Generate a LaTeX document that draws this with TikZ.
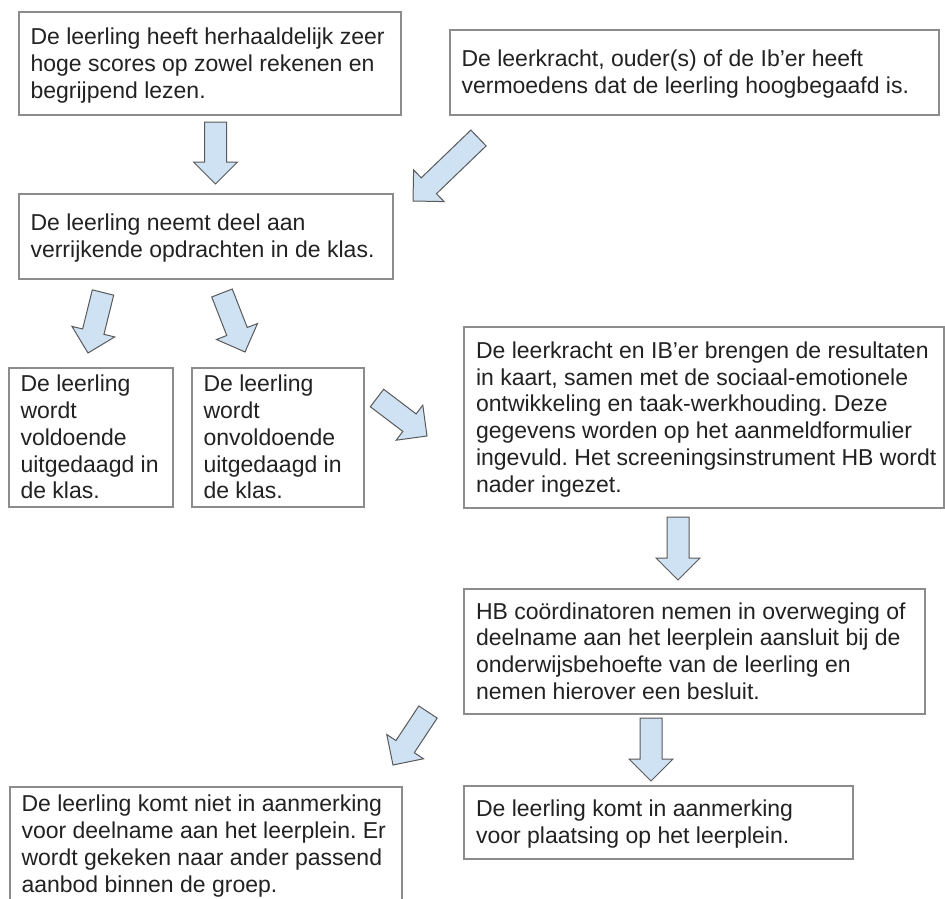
\documentclass[tikz,border=0pt]{standalone}
\usepackage{fontspec}
\setmainfont{Liberation Sans}
\usetikzlibrary{calc}
\frenchspacing
\definecolor{arrowfill}{HTML}{CFE2F3}
\definecolor{arrowline}{HTML}{595959}
\definecolor{boxline}{HTML}{8C8C8C}
\definecolor{txtcol}{HTML}{222222}
\newcommand\blkarrow[2]{%
  \coordinate (nk) at ($(#2)!22pt!(#1)$);
  \draw[blockarr] ($(#1)!11pt!90:(#2)$) -- ($(nk)!11pt!90:(#2)$) -- ($(nk)!22pt!90:(#2)$)
    -- (#2) -- ($(nk)!22pt!-90:(#2)$) -- ($(nk)!11pt!-90:(#2)$) -- ($(#1)!11pt!-90:(#2)$) -- cycle;
}
\tikzset{
  box/.style={draw=boxline, line width=1.3pt, fill=white, inner sep=0pt},
  txt/.style={inner sep=0pt, align=left, text=txtcol, anchor=west, yshift=-3.5pt,
    font=\fontsize{23}{26.8}\selectfont\frenchspacing,
    execute at begin node=\strut, execute at end node=\strut},
  blockarr/.style={draw=arrowline, fill=arrowfill, line width=1pt, line join=miter},
}
\begin{document}
\begin{tikzpicture}[x=1pt, y=-1pt]
\useasboundingbox (0,0) rectangle (945,899);
\fill[white] (0,0) rectangle (945,899);

% boxes
\node[box, minimum width=382pt, minimum height=103pt] (b1) at (210,63.5) {};
\node[txt] (t1) at ([xshift=12pt]b1.west) {De leerling heeft herhaaldelijk zeer\\hoge scores op zowel rekenen en\\begrijpend lezen.};

\node[box, minimum width=489pt, minimum height=85pt] (b2) at (694.5,72.5) {};
\node[txt] (t2) at ([xshift=12pt]b2.west) {De leerkracht, ouder(s) of de Ib’er heeft\\vermoedens dat de leerling hoogbegaafd is.};

\node[box, minimum width=374pt, minimum height=85pt] (b3) at (206,236.5) {};
\node[txt] (t3) at ([xshift=12pt]b3.west) {De leerling neemt deel aan\\verrijkende opdrachten in de klas.};

\node[box, minimum width=164pt, minimum height=139pt] (b4) at (91,437.5) {};
\node[txt] (t4) at ([xshift=12pt]b4.west) {De leerling\\wordt\\voldoende\\uitgedaagd in\\de klas.};

\node[box, minimum width=172pt, minimum height=139pt] (b5) at (278,437.5) {};
\node[txt] (t5) at ([xshift=12pt]b5.west) {De leerling\\wordt\\onvoldoende\\uitgedaagd in\\de klas.};

\node[box, minimum width=480pt, minimum height=181pt] (b6) at (704,417.5) {};
\node[txt] (t6) at ([xshift=12.5pt]b6.west) {De leerkracht en IB’er brengen de resultaten\\in kaart, samen met de sociaal-emotionele\\ontwikkeling en taak-werkhouding. Deze\\gegevens worden op het aanmeldformulier\\ingevuld. Het screeningsinstrument HB wordt\\nader ingezet.};

\node[box, minimum width=461pt, minimum height=125pt] (b7) at (694.5,651.5) {};
\node[txt] (t7) at ([xshift=12.5pt]b7.west) {HB coördinatoren nemen in overweging of\\deelname aan het leerplein aansluit bij de\\onderwijsbehoefte van de leerling en\\nemen hierover een besluit.};

\node[box, minimum width=392pt, minimum height=114pt] (b8) at (206,844) {};
\node[txt] (t8) at ([xshift=12pt]b8.west) {De leerling komt niet in aanmerking\\voor deelname aan het leerplein. Er\\wordt gekeken naar ander passend\\aanbod binnen de groep.};

\node[box, minimum width=389pt, minimum height=73pt] (b9) at (658.5,822.5) {};
\node[txt] (t9) at ([xshift=12.5pt]b9.west) {De leerling komt in aanmerking\\voor plaatsing op het leerplein.};

% block arrows
\coordinate (a1s) at (215.5,122); \coordinate (a1e) at (215.5,184);
\coordinate (a2s) at (478.5,138); \coordinate (a2e) at (413,201);
\coordinate (a3s) at (103,292.5); \coordinate (a3e) at (88,353);
\coordinate (a4s) at (222,293);   \coordinate (a4e) at (245,352);
\coordinate (a5s) at (377,398);   \coordinate (a5e) at (427,436);
\coordinate (a6s) at (678,517);   \coordinate (a6e) at (678,580);
\coordinate (a7s) at (428,712);   \coordinate (a7e) at (393,765);
\coordinate (a8s) at (651,718);   \coordinate (a8e) at (651,781);
\blkarrow{a1s}{a1e}
\blkarrow{a2s}{a2e}
\blkarrow{a3s}{a3e}
\blkarrow{a4s}{a4e}
\blkarrow{a5s}{a5e}
\blkarrow{a6s}{a6e}
\blkarrow{a7s}{a7e}
\blkarrow{a8s}{a8e}
\end{tikzpicture}
\end{document}
